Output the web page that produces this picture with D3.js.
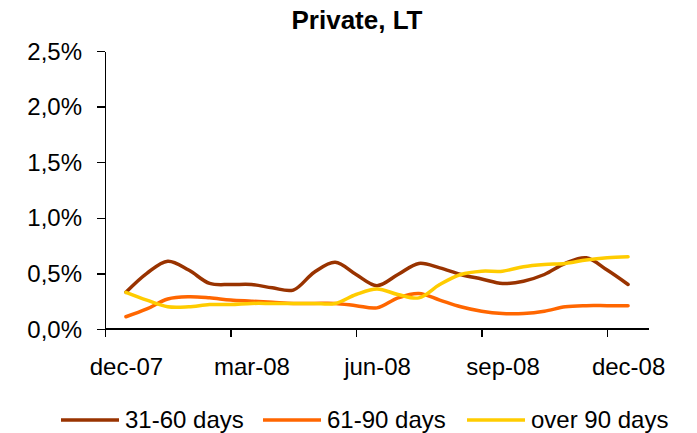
<!DOCTYPE html>
<html>
    <head>
        <meta charset="utf-8">
        <title>Private, LT</title>
        <style>
         body { margin: 0; background: #fff; }
         svg text { font-family: "Liberation Sans", Arial, sans-serif; fill: #000; }
         .axis path, .axis line { stroke: #000; stroke-width: 1.5px; shape-rendering: crispEdges; }
         .axis text { font-size: 24px; }
         .series { fill: none; stroke-width: 3.5px; stroke-linejoin: round; stroke-linecap: round; }
        </style>
    </head>
    <body>
        <svg width="697" height="433"></svg>

        <script src="https://cdn.jsdelivr.net/npm/d3@7"></script>
        <script>

         // semi-monthly readings, dec-07 .. dec-08 (values in %)
         var seriesNames = ['31-60 days', '61-90 days', 'over 90 days'];
         var seriesColors = ['#993300', '#ff6600', '#ffcc00'];

         var days31to60 = [0.33, 0.50, 0.61, 0.53, 0.41, 0.40, 0.40, 0.37, 0.35, 0.51, 0.60, 0.49, 0.39,
                           0.49, 0.59, 0.55, 0.49, 0.45, 0.41, 0.43, 0.49, 0.59, 0.64, 0.53, 0.40];
         var days61to90 = [0.11, 0.18, 0.27, 0.29, 0.28, 0.26, 0.25, 0.24, 0.23, 0.23, 0.23, 0.21, 0.19,
                           0.28, 0.32, 0.26, 0.20, 0.16, 0.14, 0.14, 0.16, 0.20, 0.21, 0.21, 0.21];
         var over90days = [0.33, 0.26, 0.20, 0.20, 0.22, 0.22, 0.23, 0.23, 0.23, 0.23, 0.23, 0.31, 0.36,
                           0.31, 0.28, 0.40, 0.49, 0.52, 0.52, 0.56, 0.58, 0.59, 0.62, 0.64, 0.65];

         var monthLabels = ['dec-07', 'mar-08', 'jun-08', 'sep-08', 'dec-08'];
         var labelMonths = [0, 3, 6, 9, 12];
         var yTicks = [0, 0.5, 1.0, 1.5, 2.0, 2.5];

         var svg = d3.select('svg');

         var x = d3.scaleLinear().domain([-0.5, 12.5]).range([105, 649]);
         var y = d3.scaleLinear().domain([0, 2.5]).range([329, 51]);

         var comma = d3.formatLocale({ decimal: ',', thousands: '.', grouping: [3], currency: ['', ''] });
         var pct = comma.format('.1f');

         // title
         svg.append('text')
            .attr('x', 357)
            .attr('y', 29)
            .attr('text-anchor', 'middle')
            .style('font-size', '26px')
            .style('font-weight', 'bold')
            .text('Private, LT');

         // y axis
         svg.append('g')
            .attr('class', 'axis')
            .attr('transform', 'translate(105,0)')
            .call(d3.axisLeft(y).tickValues(yTicks).tickSize(8).tickSizeOuter(0).tickPadding(15)
                     .tickFormat(function(d) { return pct(d) + '%'; }))
            .selectAll('text').attr('dy', '0.34em');

         // x axis: tick marks between categories, labels on the months
         var xAxis = svg.append('g')
                        .attr('class', 'axis')
                        .attr('transform', 'translate(0,329)');
         xAxis.call(d3.axisBottom(x).tickValues([-0.5, 2.5, 5.5, 8.5, 11.5]).tickSize(8).tickSizeOuter(0)
                      .tickFormat(''));
         xAxis.select('.domain').attr('d', 'M' + x.range()[0] + ',0H' + x.range()[1]);

         svg.append('g')
            .attr('class', 'axis')
            .attr('transform', 'translate(0,329)')
            .call(d3.axisBottom(x).tickValues(labelMonths).tickSize(0).tickPadding(29)
                     .tickFormat(function(d, i) { return monthLabels[i]; }))
            .select('.domain').remove();

         // lines
         var allSeries = [days31to60, days61to90, over90days];
         var line = d3.line()
                      .x(function(d, i) { return x(i / 2); })
                      .y(function(d) { return y(d); })
                      .curve(d3.curveCatmullRom.alpha(0.5));

         svg.append('g')
            .selectAll('path')
            .data(allSeries)
            .enter()
            .append('path')
            .attr('class', 'series')
            .attr('stroke', function(d, i) { return seriesColors[i]; })
            .attr('d', line);

         // legend
         var legendX = [61, 263, 467];
         var legend = svg.append('g')
                         .selectAll('g')
                         .data(seriesNames)
                         .enter()
                         .append('g')
                         .attr('transform', function(d, i) { return 'translate(' + legendX[i] + ',420)'; });

         legend.append('line')
               .attr('x1', 0).attr('x2', 58)
               .attr('stroke', function(d, i) { return seriesColors[i]; })
               .attr('stroke-width', 3.5);

         legend.append('text')
               .attr('x', 64)
               .attr('y', 8)
               .style('font-size', '24px')
               .text(function(d) { return d; });
        </script>
    </body>
</html>
